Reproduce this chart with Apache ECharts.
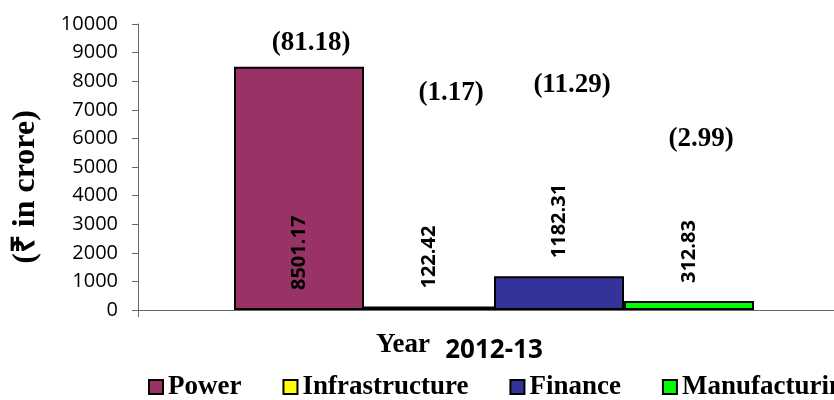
<!DOCTYPE html>
<html>
<head>
<meta charset="utf-8">
<script src="https://cdn.jsdelivr.net/npm/echarts@6/dist/echarts.min.js"></script>
<style>
	html, body {margin: 0; padding: 0; background: #fff;}
	#chart {width: 834px; height: 400px;}
</style>
</head>
<body>
<div id="chart"></div>
<script>
	//数据
	var categories = ['2012-13'];
	var sectors = ['Power', 'Infrastructure', 'Finance', 'Manufacturing'];
	var amounts = [8501.17, 122.42, 1182.31, 312.83];
	var shares = [81.18, 1.17, 11.29, 2.99];
	var yTicks = [0, 10000, 1000];	//min, max, interval

	var colors = ['#993366', '#FFFF00', '#333399', '#00FF00'];
	var shareOffsets = [[12, -24], [22, -213], [13, -191], [12, -162]];
	var serif = '"Liberation Serif", "Times New Roman", serif';
	var sans = '"Open Sans", "Noto Sans", sans-serif';

	var chart = echarts.init(document.getElementById('chart'));

	var series = sectors.map(function(name, i){
		var first = i === 0;
		return {
			name: name,
			type: 'bar',
			barWidth: 130,
			barGap: '0%',
			itemStyle: {
				color: colors[i],
				borderColor: '#000',
				borderWidth: 2
			},
			label: {
				show: true,
				rotate: 90,
				position: first ? 'insideBottom' : 'top',
				distance: first ? 20 : 18,
				align: 'left',
				verticalAlign: 'middle',
				fontFamily: sans,
				fontWeight: 'bold',
				fontSize: 20,
				color: '#000',
				formatter: function(p){ return p.value.toFixed(2); }
			},
			markPoint: {
				symbol: 'rect',
				symbolSize: 1,
				itemStyle: {color: 'rgba(0,0,0,0)'},
				label: {
					show: true,
					position: 'inside',
					offset: shareOffsets[i],
					fontFamily: serif,
					fontWeight: 'bold',
					fontSize: 27,
					color: '#000',
					formatter: function(p){ return '(' + p.value.toFixed(2) + ')'; }
				},
				data: [{coord: [categories[0], amounts[i]], value: shares[i]}]
			},
			data: [amounts[i]]
		};
	});

	var option = {
		animation: false,
		grid: {
			left: 138,
			width: 712,
			top: 24,
			bottom: 90,
			containLabel: false,
			outerBoundsMode: 'none'
		},
		legend: {
			data: sectors,
			left: 148,
			top: 373,
			width: 1000,
			padding: 0,
			itemWidth: 14,
			itemHeight: 14,
			itemGap: 41,
			icon: 'rect',
			itemStyle: {borderColor: '#000', borderWidth: 2},
			textStyle: {
				fontFamily: serif,
				fontWeight: 'bold',
				fontSize: 27,
				lineHeight: 28,
				color: '#000'
			}
		},
		xAxis: {
			type: 'category',
			data: categories,
			name: 'Year',
			nameLocation: 'middle',
			nameGap: 22,
			nameMoveOverlap: false,
			nameTextStyle: {
				fontFamily: serif,
				fontWeight: 'bold',
				fontSize: 27,
				color: '#000',
				padding: [0, 182, 0, 0]
			},
			axisLine: {lineStyle: {color: '#666', width: 1}},
			axisTick: {show: true, length: 7, lineStyle: {color: '#666'}},
			axisLabel: {
				margin: 28,
				fontFamily: sans,
				fontWeight: 'bold',
				fontSize: 26,
				color: '#000'
			}
		},
		yAxis: {
			type: 'value',
			min: yTicks[0],
			max: yTicks[1],
			interval: yTicks[2],
			name: '(₹ in crore)',
			nameLocation: 'middle',
			nameGap: 96,
			nameRotate: 90,
			nameMoveOverlap: false,
			nameTextStyle: {
				fontFamily: serif,
				fontWeight: 'bold',
				fontSize: 32,
				color: '#000',
				padding: [0, 40, 0, 0]
			},
			axisLine: {show: true, lineStyle: {color: '#666', width: 1}},
			axisTick: {show: true, length: 6, lineStyle: {color: '#666'}},
			splitLine: {show: false},
			axisLabel: {
				margin: 20,
				fontFamily: sans,
				fontSize: 20,
				color: '#000',
				formatter: function(v){ return String(v); }
			}
		},
		series: series
	};
	chart.setOption(option);
</script>
</body>
</html>
